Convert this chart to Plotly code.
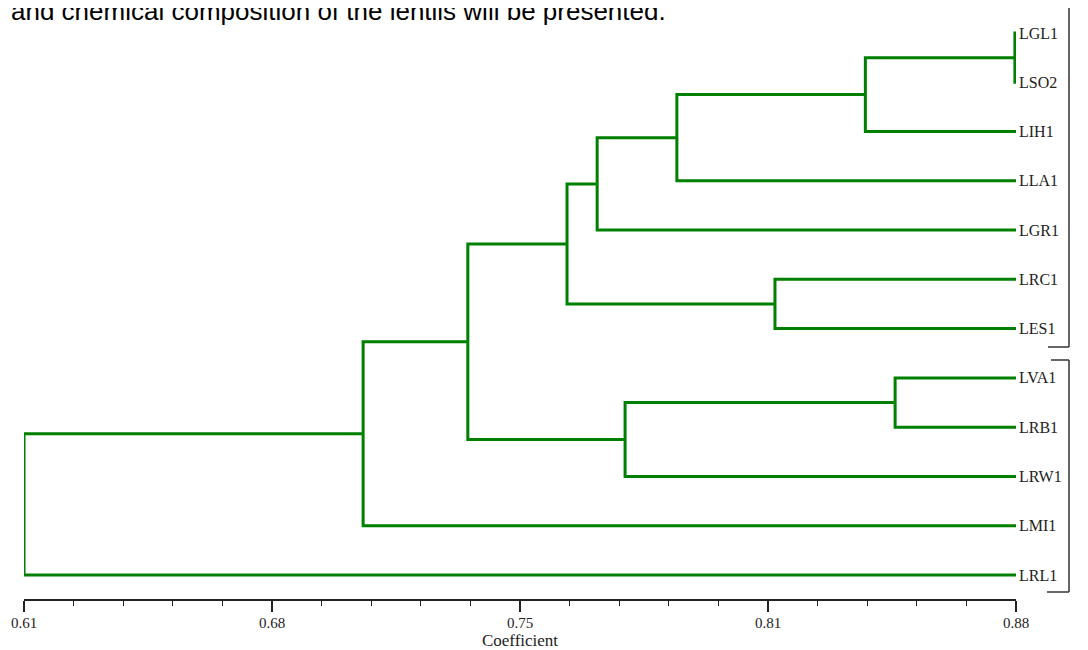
import plotly.graph_objects as go

# ---- data ----
labels = ["LGL1", "LSO2", "LIH1", "LLA1", "LGR1", "LRC1", "LES1",
          "LVA1", "LRB1", "LRW1", "LMI1", "LRL1"]
# merges: (child_a, child_b, coefficient); ids < 12 are leaves, >= 12 are earlier merges
merge_a = [0, 12, 13, 14, 5, 15, 7, 18, 17, 20, 21]
merge_b = [1, 2, 3, 4, 6, 16, 8, 9, 19, 10, 11]
merge_h = [0.8797, 0.839, 0.7877, 0.766, 0.8144, 0.7578, 0.8471, 0.7736, 0.7308, 0.7023, 0.61]
leaf_level = 0.88
tick_vals = [0.61, 0.6775, 0.745, 0.8125, 0.88]
tick_text = ["0.61", "0.68", "0.75", "0.81", "0.88"]

# ---- build dendrogram segments ----
n = len(labels)
node_x = {i: leaf_level for i in range(n)}
node_y = {i: float(i) for i in range(n)}
xs, ys = [], []
for k, (a, b, h) in enumerate(zip(merge_a, merge_b, merge_h)):
    nid = n + k
    xs += [node_x[a], h, h, node_x[b], None]
    ys += [node_y[a], node_y[a], node_y[b], node_y[b], None]
    node_x[nid] = h
    node_y[nid] = (node_y[a] + node_y[b]) / 2

OFF = 8  # page body margin
W, H = 1088 - OFF, 650 - OFF
L, R = 24 - OFF, 1016 - OFF
AX = 599 - OFF
fig = go.Figure()
fig.add_trace(go.Scatter(x=xs, y=ys, mode="lines", cliponaxis=False,
                         line=dict(color="#008000", width=3),
                         hoverinfo="skip", showlegend=False))

pitch = 49.27
y0px = 33 - OFF
y_top = -y0px / pitch
y_bot = (AX - y0px) / pitch

def py(p):
    return 1 - (p - OFF) / AX

def px(p):
    return (p - OFF - L) / (R - L)

shapes = []
bc = "#333333"
# bracket 1
shapes.append(dict(type="line", xref="paper", yref="paper", x0=px(1069), x1=px(1069), y0=py(0), y1=py(347), line=dict(color=bc, width=1.5)))
shapes.append(dict(type="line", xref="paper", yref="paper", x0=px(1048), x1=px(1069), y0=py(347), y1=py(347), line=dict(color=bc, width=1.5)))
# bracket 2
shapes.append(dict(type="line", xref="paper", yref="paper", x0=px(1069), x1=px(1069), y0=py(360), y1=py(592), line=dict(color=bc, width=1.5)))
shapes.append(dict(type="line", xref="paper", yref="paper", x0=px(1051), x1=px(1069), y0=py(360), y1=py(360), line=dict(color=bc, width=1.5)))
shapes.append(dict(type="line", xref="paper", yref="paper", x0=px(1047), x1=px(1069), y0=py(592), y1=py(592), line=dict(color=bc, width=1.5)))
# small mark
shapes.append(dict(type="line", xref="paper", yref="paper", x0=px(1083), x1=px(1083), y0=py(177), y1=py(187), line=dict(color="#111111", width=1.5)))

fig.update_layout(
    width=W, height=H,
    margin=dict(l=L, r=W - R, t=0, b=H - AX),
    paper_bgcolor="white", plot_bgcolor="white",
    shapes=shapes,
    xaxis=dict(range=[0.61, 0.88], tickmode="array", tickvals=tick_vals, ticktext=tick_text,
               showline=True, linecolor="#222222", linewidth=1.5, ticks="outside",
               ticklen=11, tickwidth=1.5, tickcolor="#222222", showgrid=False, zeroline=False,
               ticklabelstandoff=-2,
               minor=dict(tick0=0.61, dtick=0.0135, ticks="outside", ticklen=5, tickwidth=1.2,
                          tickcolor="#222222", showgrid=False),
               tickfont=dict(family="Liberation Serif", size=15, color="#222222"),
               title=dict(text="Coefficient", font=dict(family="Liberation Serif", size=17, color="#222222"),
                          standoff=8)),
    yaxis=dict(range=[y_bot, y_top], side="right", tickmode="array",
               tickvals=list(range(n)), ticktext=labels, showgrid=False, zeroline=False,
               showline=False, ticks="", ticklabelstandoff=2,
               tickfont=dict(family="Liberation Serif", size=16, color="#222222")),
    annotations=[dict(text="and chemical composition of the lentils will be presented.",
                      xref="paper", yref="paper", x=px(9), y=py(11), xanchor="left", yanchor="middle",
                      showarrow=False, font=dict(family="Liberation Sans", size=26, color="black"))],
)

fig.write_html("out.html")
